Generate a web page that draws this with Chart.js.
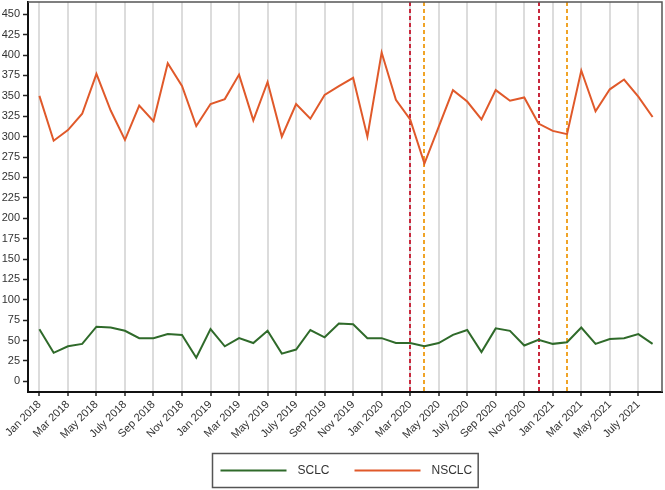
<!DOCTYPE html>
<html>
<head>
<meta charset="utf-8">
<script src="https://cdn.jsdelivr.net/npm/chart.js@4.4.0/dist/chart.umd.min.js"></script>
<style>
  html, body { margin: 0; padding: 0; background: #fff; }
</style>
</head>
<body>
<canvas id="trendChart" width="665" height="490"></canvas>
<script>
const months = [
    'Jan 2018', 'Feb 2018', 'Mar 2018', 'Apr 2018', 'May 2018', 'June 2018',
    'July 2018', 'Aug 2018', 'Sep 2018', 'Oct 2018', 'Nov 2018', 'Dec 2018',
    'Jan 2019', 'Feb 2019', 'Mar 2019', 'Apr 2019', 'May 2019', 'June 2019',
    'July 2019', 'Aug 2019', 'Sep 2019', 'Oct 2019', 'Nov 2019', 'Dec 2019',
    'Jan 2020', 'Feb 2020', 'Mar 2020', 'Apr 2020', 'May 2020', 'June 2020',
    'July 2020', 'Aug 2020', 'Sep 2020', 'Oct 2020', 'Nov 2020', 'Dec 2020',
    'Jan 2021', 'Feb 2021', 'Mar 2021', 'Apr 2021', 'May 2021', 'June 2021',
    'July 2021', 'Aug 2021'
];

const sclc = [
    64, 35, 43, 46, 67, 66, 62, 53, 53, 58, 57, 29,
    64, 43, 53, 47, 62, 34, 39, 63, 54, 71, 70, 53,
    53, 47, 47, 43, 47, 57, 63, 36, 65, 62, 44, 51,
    46, 48, 66, 46, 52, 53, 58, 46
];

const nsclc = [
    350, 295, 308, 328, 377, 332, 296, 338, 319, 390, 362, 313,
    340, 346, 376, 320, 367, 300, 340, 322, 351, 362, 372, 300,
    403, 345, 321, 267, 312, 357, 343, 321, 357, 344, 348, 316,
    307, 303, 381, 331, 358, 370, 349, 324
];

// dashed markers
const redMarkers = ['Mar 2020', 'Dec 2020'];
const orangeMarkers = ['Apr 2020', 'Feb 2021'];

const fontStack = "'Liberation Sans', Arial, sans-serif";

const toPoints = values => values.map((v, i) => ({ x: i, y: v }));

const markerLines = {
    id: 'markerLines',
    beforeDatasetsDraw(chart) {
        const {ctx, chartArea: {top, bottom}, scales: {x}} = chart;
        ctx.save();
        ctx.lineWidth = 2;
        ctx.setLineDash([4, 3]);
        [[redMarkers, '#c8283c'], [orangeMarkers, '#f0a428']].forEach(([list, color]) => {
            ctx.strokeStyle = color;
            list.forEach(m => {
                const px = Math.round(x.getPixelForValue(months.indexOf(m)));
                ctx.beginPath();
                ctx.moveTo(px, top);
                ctx.lineTo(px, bottom);
                ctx.stroke();
            });
        });
        ctx.restore();
    }
};

const frameAndLegend = {
    id: 'frameAndLegend',
    afterDraw(chart) {
        const {ctx, chartArea} = chart;
        ctx.save();
        // top and right edges of the plot box
        ctx.strokeStyle = '#555';
        ctx.lineWidth = 1.5;
        ctx.beginPath();
        ctx.moveTo(chartArea.left, chartArea.top);
        ctx.lineTo(chartArea.right, chartArea.top);
        ctx.lineTo(chartArea.right, chartArea.bottom);
        ctx.stroke();

        // legend box
        ctx.font = '12px ' + fontStack;
        const items = chart.data.datasets.map(ds => ({
            label: ds.label,
            color: ds.borderColor,
            w: ctx.measureText(ds.label).width
        }));
        const lineLen = 66, gap = 11, between = 25, padL = 8, padR = 6, boxH = 34;
        let total = padL + padR;
        items.forEach((it, i) => {
            total += lineLen + gap + it.w + (i < items.length - 1 ? between : 0);
        });
        const left = Math.round((chartArea.left + chartArea.right) / 2 - total / 2) + 0.5;
        const top = chart.height - 37 + 0.5;
        ctx.strokeStyle = '#555';
        ctx.lineWidth = 1.5;
        ctx.strokeRect(left, top, total, boxH);

        let xPos = left + padL;
        const cy = top + boxH / 2;
        ctx.textBaseline = 'middle';
        items.forEach(it => {
            ctx.strokeStyle = it.color;
            ctx.lineWidth = 2;
            ctx.beginPath();
            ctx.moveTo(xPos, cy);
            ctx.lineTo(xPos + lineLen, cy);
            ctx.stroke();
            xPos += lineLen + gap;
            ctx.fillStyle = '#333';
            ctx.fillText(it.label, xPos, cy);
            xPos += it.w + between;
        });
        ctx.restore();
    }
};

const chart = new Chart(document.getElementById('trendChart').getContext('2d'), {
    type: 'line',
    data: {
        datasets: [
            {
                label: 'SCLC',
                data: toPoints(sclc),
                borderColor: '#2f6a2a',
                borderWidth: 2,
                pointRadius: 0,
                tension: 0
            },
            {
                label: 'NSCLC',
                data: toPoints(nsclc),
                borderColor: '#e0592a',
                borderWidth: 2,
                pointRadius: 0,
                tension: 0
            }
        ]
    },
    options: {
        responsive: false,
        animation: false,
        devicePixelRatio: 1,
        layout: { padding: { top: 2, right: 3, left: 0, bottom: 0 } },
        plugins: {
            legend: { display: false },
            tooltip: { enabled: false }
        },
        scales: {
            x: {
                type: 'linear',
                min: -0.8,
                max: 43.66,
                afterFit(scale) {
                    scale.height = 98;
                    scale.paddingLeft = 0;
                    scale.paddingRight = 0;
                },
                grid: {
                    color: '#dcdcdc',
                    lineWidth: 2,
                    tickColor: '#222',
                    tickWidth: 1.5,
                    tickLength: 4
                },
                border: { color: '#111', width: 2 },
                ticks: {
                    stepSize: 2,
                    includeBounds: false,
                    autoSkip: false,
                    minRotation: 45,
                    maxRotation: 45,
                    padding: 2,
                    color: '#333',
                    font: { family: fontStack, size: 11 },
                    callback: value => months[value] || ''
                }
            },
            y: {
                min: -13,
                max: 465,
                afterFit(scale) {
                    scale.width = 28;
                    scale.paddingTop = 0;
                    scale.paddingBottom = 0;
                },
                grid: {
                    drawOnChartArea: false,
                    tickColor: '#222',
                    tickWidth: 1.5,
                    tickLength: 5
                },
                border: { color: '#111', width: 2 },
                ticks: {
                    stepSize: 25,
                    includeBounds: false,
                    padding: 3,
                    color: '#333',
                    font: { family: fontStack, size: 11 }
                }
            }
        }
    },
    plugins: [markerLines, frameAndLegend]
});
</script>
</body>
</html>
